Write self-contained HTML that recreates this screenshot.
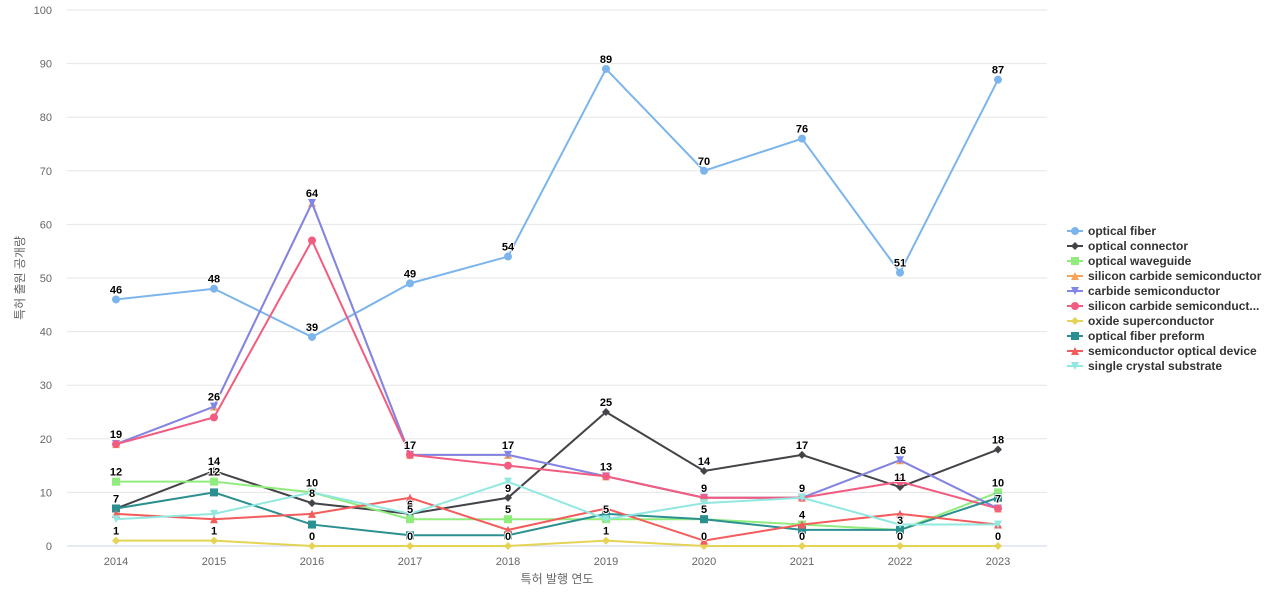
<!DOCTYPE html>
<html><head><meta charset="utf-8"><style>
body{margin:0;background:#fff;width:1280px;height:600px;overflow:hidden;font-family:"Liberation Sans","Noto Sans CJK KR",sans-serif}
</style></head><body>
<svg id="chart" width="1280" height="600" xmlns="http://www.w3.org/2000/svg"></svg>
<script>
const years=["2014","2015","2016","2017","2018","2019","2020","2021","2022","2023"];
const yTicks=[0,10,20,30,40,50,60,70,80,90,100];
const seriesNames=["optical fiber","optical connector","optical waveguide","silicon carbide semiconductor","carbide semiconductor","silicon carbide semiconduct...","oxide superconductor","optical fiber preform","semiconductor optical device","single crystal substrate"];
const opticalFiber=[46,48,39,49,54,89,70,76,51,87];
const opticalConnector=[7,14,8,6,9,25,14,17,11,18];
const opticalWaveguide=[12,12,10,5,5,5,5,4,3,10];
const siliconCarbideSemi=[19,26,64,17,17,13,9,9,16,7];
const carbideSemi=[19,26,64,17,17,13,9,9,16,7];
const siliconCarbideSemi2=[19,24,57,17,15,13,9,9,12,7];
const oxideSuper=[1,1,0,0,0,1,0,0,0,0];
const fiberPreform=[7,10,4,2,2,6,5,3,3,9];
const semiOpticalDevice=[6,5,6,9,3,7,1,4,6,4];
const singleCrystal=[5,6,10,6,12,5,8,9,4,4];
const seriesData=[opticalFiber,opticalConnector,opticalWaveguide,siliconCarbideSemi,carbideSemi,siliconCarbideSemi2,oxideSuper,fiberPreform,semiOpticalDevice,singleCrystal];
const colors=["#7cb5ec","#434348","#90ed7d","#f7a35c","#8085e9","#f15c80","#e4d354","#2b908f","#f45b5b","#91e8e1"];
const markers=["circle","diamond","square","triangle","tridown","circle","diamond","square","triangle","tridown"];
const labeled=[true,true,true,false,true,false,true,false,false,false];
const svg=document.getElementById('chart');const NS="http://www.w3.org/2000/svg";
const x=i=>116+i*98, y=v=>546-v*5.36;
function mk(t,a,p){const e=document.createElementNS(NS,t);for(const k in a)e.setAttribute(k,a[k]);(p||svg).appendChild(e);return e;}
yTicks.forEach(t=>{const l=mk('line',{x1:67,x2:1047,y1:y(t),y2:y(t),stroke:t?'#e6e6e6':'#ccd6eb'});

const tx=mk('text',{x:52,y:y(t)+4,'text-anchor':'end','font-size':11,fill:'#666'});tx.textContent=t;
});
years.forEach((yr,i)=>{const tx=mk('text',{x:x(i),y:565,'text-anchor':'middle','font-size':11,fill:'#666'});tx.textContent=yr;
});
let t=mk('text',{x:557,y:583,'text-anchor':'middle','font-size':12,fill:'#666'});t.textContent='특허 발행 연도';

t=mk('text',{x:24,y:278,'text-anchor':'middle','font-size':12,fill:'#666',transform:'rotate(-90 24 278)'});t.textContent='특허 출원 공개량';

function marker(g,type,cx,cy,c,s){s=s||4;let e;
if(type=='circle')e=mk('circle',{cx,cy,r:s,fill:c},g);
else if(type=='square')e=mk('rect',{x:cx-s,y:cy-s,width:2*s,height:2*s,fill:c},g);
else if(type=='diamond')e=mk('path',{d:`M${cx} ${cy-s}L${cx+s} ${cy}L${cx} ${cy+s}L${cx-s} ${cy}Z`,fill:c},g);
else if(type=='triangle')e=mk('path',{d:`M${cx} ${cy-s}L${cx+s} ${cy+s}L${cx-s} ${cy+s}Z`,fill:c},g);
else e=mk('path',{d:`M${cx-s} ${cy-s}L${cx+s} ${cy-s}L${cx} ${cy+s}Z`,fill:c},g);
}
const order=[0,1,2,3,4,5,6,7,8,9];
order.forEach(si=>{const g=mk('g',{});
const d=seriesData[si].map((v,i)=>(i?'L':'M')+x(i)+' '+y(v)).join('');
const p=mk('path',{d,fill:'none',stroke:colors[si],'stroke-width':2},g);

seriesData[si].forEach((v,i)=>marker(g,markers[si],x(i),y(v),colors[si]));});
order.forEach(si=>{if(!labeled[si])return;seriesData[si].forEach((v,i)=>{
const tx=mk('text',{x:x(i),y:y(v)-6,'text-anchor':'middle','font-size':11,'font-weight':'bold',fill:'#000',stroke:'#fff','stroke-width':2,'paint-order':'stroke'});tx.textContent=v;
});});
seriesNames.forEach((n,i)=>{const g=mk('g',{});
const ly=231+i*15;mk('line',{x1:1067,x2:1083,y1:ly,y2:ly,stroke:colors[i],'stroke-width':2},g);
marker(g,markers[i],1075,ly,colors[i],4);
const tx=mk('text',{x:1088,y:ly+4,'font-size':12,'font-weight':'bold',fill:'#333'},g);tx.textContent=n;});
</script></body></html>
